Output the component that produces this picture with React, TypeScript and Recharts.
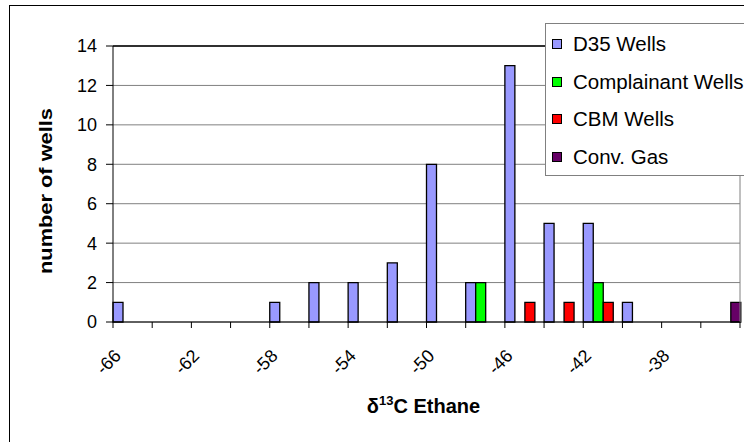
import React from 'react';
import { BarChart, Bar, XAxis, YAxis, CartesianGrid, Legend, ReferenceLine } from 'recharts';

const FONT = '"Liberation Sans", Arial, sans-serif';

// bin starts of delta13C ethane (categories)
const bins = [-66, -64, -62, -60, -58, -56, -54, -52, -50, -48, -46, -44, -42, -40, -38, -36];
const d35Wells = [1, 0, 0, 0, 1, 2, 2, 3, 8, 2, 13, 5, 5, 1, 0, 0];
const complainantWells = [0, 0, 0, 0, 0, 0, 0, 0, 0, 2, 0, 0, 2, 0, 0, 0];
const cbmWells = [0, 0, 0, 0, 0, 0, 0, 0, 0, 0, 1, 1, 1, 0, 0, 0];
const convGas = [0, 0, 0, 0, 0, 0, 0, 0, 0, 0, 0, 0, 0, 0, 0, 1];

const seriesNames = ['D35 Wells', 'Complainant Wells', 'CBM Wells', 'Conv. Gas'];

const xTicks = [-66, -64, -62, -60, -58, -56, -54, -52, -50, -48, -46, -44, -42, -40, -38, -36, -34];
const xLabels = [-66, -62, -58, -54, -50, -46, -42, -38];
const yTicks = [0, 2, 4, 6, 8, 10, 12, 14];

const data = bins.map((b, i) => ({
  bin: b,
  d35: d35Wells[i],
  comp: complainantWells[i],
  cbm: cbmWells[i],
  conv: convGas[i],
}));

const XTick = (props: any) => {
  const { x, y, payload } = props;
  if (!xLabels.includes(payload.value)) return <g />;
  const ax = x + 9;
  const ay = y + 27;
  return (
    <text
      x={ax}
      y={ay}
      transform={`rotate(-45 ${ax} ${ay})`}
      textAnchor="end"
      fontSize={18}
      fontFamily={FONT}
      fill="#000"
    >
      {payload.value}
    </text>
  );
};

const XTitle = (props: any) => {
  const vb = props.viewBox || { x: 113, y: 322, width: 627, height: 30 };
  const cx = vb.x + vb.width / 2 - 3;
  const by = vb.y + 91;
  return (
    <text x={cx} y={by} textAnchor="middle" fontSize={20} fontWeight="bold" fontFamily={FONT} fill="#000">
      <tspan>δ</tspan>
      <tspan fontSize={13} dy={-8}>13</tspan>
      <tspan dy={8}>C Ethane</tspan>
    </text>
  );
};

const YTitle = (props: any) => {
  const vb = props.viewBox || { x: 53, y: 46, width: 60, height: 276 };
  const cx = vb.x - 8;
  const cy = vb.y + vb.height / 2 + 7;
  return (
    <text
      x={cx}
      y={cy}
      transform={`rotate(-90 ${cx} ${cy})`}
      textAnchor="middle"
      dominantBaseline="central"
      fontSize={19}
      fontWeight="bold"
      fontFamily={FONT}
      fill="#000"
      textLength={166}
      lengthAdjust="spacingAndGlyphs"
    >
      number of wells
    </text>
  );
};

const LegendBox = (props: any) => {
  const payload = [...(props.payload || [])].sort(
    (a: any, b: any) => seriesNames.indexOf(a.value) - seriesNames.indexOf(b.value)
  );
  return (
    <div
      style={{
        border: '1px solid #808080',
        background: '#fff',
        width: 240,
        height: 153,
        boxSizing: 'border-box',
        paddingTop: 1,
        fontFamily: FONT,
        fontSize: 20.5,
        color: '#000',
      }}
    >
      {payload.map((p: any) => (
        <div key={p.value} style={{ height: 37.8, display: 'flex', alignItems: 'center', whiteSpace: 'nowrap' }}>
          <span
            style={{
              display: 'inline-block',
              width: 10,
              height: 10,
              boxSizing: 'border-box',
              border: '1px solid #000',
              background: p.color,
              marginLeft: 6,
              marginRight: 11,
            }}
          />
          <span>{p.value}</span>
        </div>
      ))}
    </div>
  );
};

export default function App() {
  return (
    <div style={{ position: 'absolute', left: 0, top: 0, width: 744, height: 442, overflow: 'hidden', background: '#fff' }}>
      <div
        style={{
          position: 'absolute',
          left: 9,
          top: 5,
          width: 800,
          height: 500,
          border: '1px solid #000',
        }}
      />
      <div style={{ position: 'absolute', left: 0, top: 0 }}>
        <BarChart
          width={744}
          height={442}
          data={data}
          margin={{ top: 46, right: 4, bottom: 90, left: 53 }}
          barCategoryGap={0}
          barGap={0}
        >
          <CartesianGrid xAxisId="num" vertical={false} stroke="#808080" strokeWidth={1} />
          <XAxis xAxisId="cat" dataKey="bin" type="category" hide height={0} />
          <XAxis
            xAxisId="num"
            dataKey="bin"
            type="number"
            domain={[-66, -34]}
            allowDataOverflow
            ticks={xTicks}
            interval={0}
            height={30}
            tickSize={6}
            axisLine={{ stroke: '#000', strokeWidth: 1 }}
            tickLine={{ stroke: '#000' }}
            tick={<XTick />}
            label={<XTitle />}
          />
          <YAxis
            type="number"
            domain={[0, 14]}
            ticks={yTicks}
            interval={0}
            width={60}
            tickSize={7}
            tickMargin={9}
            axisLine={{ stroke: '#000', strokeWidth: 1 }}
            tickLine={{ stroke: '#000' }}
            tick={{ fontSize: 18, fill: '#000', fontFamily: FONT }}
            label={<YTitle />}
          />
          <ReferenceLine xAxisId="num" y={14} stroke="#000" strokeWidth={1.3} />
          <ReferenceLine xAxisId="num" x={-34} stroke="#808080" strokeWidth={1} />
          <Legend
            layout="vertical"
            align="center"
            verticalAlign="middle"
            wrapperStyle={{ left: 545, top: 23, width: 240 }}
            content={<LegendBox />}
          />
          <Bar xAxisId="cat" dataKey="d35" name={seriesNames[0]} fill="#9999FF" stroke="#000" strokeWidth={1.3} isAnimationActive={false} />
          <Bar xAxisId="cat" dataKey="comp" name={seriesNames[1]} fill="#00FF00" stroke="#000" strokeWidth={1.3} isAnimationActive={false} />
          <Bar xAxisId="cat" dataKey="cbm" name={seriesNames[2]} fill="#FF0000" stroke="#000" strokeWidth={1.3} isAnimationActive={false} />
          <Bar xAxisId="cat" dataKey="conv" name={seriesNames[3]} fill="#660066" stroke="#000" strokeWidth={1.3} isAnimationActive={false} />
        </BarChart>
      </div>
    </div>
  );
}
